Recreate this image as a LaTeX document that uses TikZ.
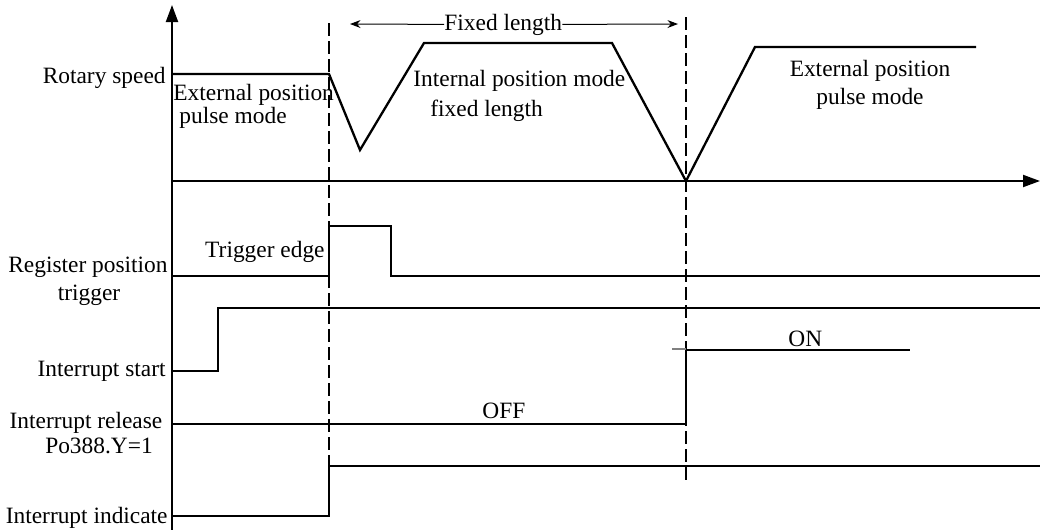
\documentclass[tikz,border=0pt]{standalone}
\usepackage{fontspec}
\setmainfont{Liberation Serif}
\usetikzlibrary{arrows.meta}
\tikzset{
  sig/.style={line width=1.15pt,line join=miter},
  guide/.style={line width=1.4pt,dash pattern=on 6.5pt off 2.5pt},
  lbl/.style={inner sep=0pt,font=\fontsize{11.7}{14}\selectfont}
}
\begin{document}
\begin{tikzpicture}[x=.5pt,y=-.5pt,>=Stealth]
  \useasboundingbox (0,0) rectangle (1044,530);
  % axes
  \draw[line width=1pt,-{Triangle[length=8.5pt,width=6pt]}] (172,530)--(172,5);
  \draw[line width=1pt,-{Triangle[length=8.5pt,width=6pt]}] (172,181)--(1040,181);
  % mode change instants
  \draw[guide] (329,23)--(329,516);
  \draw[guide] (686,17)--(686,484);
  % rotary speed
  \draw[sig] (172,74)--(329,74)--(360,150)--(424,43)--(612,43)--(686,181)
    --(755,47)--(976,47);
  \node[lbl,anchor=base east] (spd) at (166,83) {Rotary speed};
  \node[lbl,anchor=base west] (ext1a) at (173,100) {External position};
  \node[lbl,anchor=base west] (ext1b) at (179,123) {pulse mode};
  \node[lbl,anchor=base west] (inta) at (413,86) {Internal position mode};
  \node[lbl,anchor=base west] (intb) at (430,116) {fixed length};
  \node[lbl,anchor=base] (ext2a) at (870,76) {External position};
  \node[lbl,anchor=base] (ext2b) at (870,104) {pulse mode};
  % fixed length span
  \node[lbl,anchor=base west] (fix) at (444,30) {Fixed length};
  \draw[->,line width=.5pt] (fix.west)--(350,24);
  \draw[->,line width=.5pt] (fix.east)--(678,24);
  % register position trigger
  \draw[sig] (172,276)--(329,276)--(329,226)--(391,226)--(391,276)--(1040,276);
  \node[lbl,anchor=base east] (trg) at (325,257) {Trigger edge};
  \node[lbl,anchor=base] (rega) at (88,272) {Register position};
  \node[lbl,anchor=base] (regb) at (89,300) {trigger};
  % interrupt start
  \draw[sig] (172,371)--(218,371)--(218,308)--(1040,308);
  \node[lbl,anchor=base east] (ist) at (166,376) {Interrupt start};
  % interrupt release
  \draw[sig] (172,424)--(686,424)--(686,350)--(910,350);
  \draw[line width=1pt,gray] (672,349)--(686,349);
  \node[lbl,anchor=base west] (off) at (482,418) {OFF};
  \node[lbl,anchor=base west] (on) at (788,346) {ON};
  \node[lbl,anchor=base] (rela) at (86,428) {Interrupt release};
  \node[lbl,anchor=base] (relb) at (99,453) {Po388.Y=1};
  % interrupt indicate
  \draw[sig] (172,516)--(329,516)--(329,466)--(1040,466);
  \node[lbl,anchor=base east] (ind) at (168,523) {Interrupt indicate};
\end{tikzpicture}
\end{document}
